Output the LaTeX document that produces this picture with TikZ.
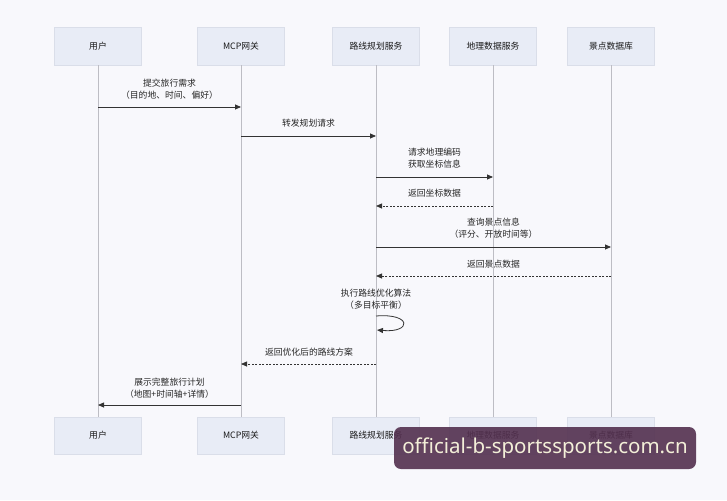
\documentclass[tikz,border=0pt]{standalone}
\usepackage{fontspec}
\setmainfont{Noto Sans CJK SC}
\newfontfamily\wmfont{Noto Sans}
\usetikzlibrary{arrows.meta}
\definecolor{bgc}{HTML}{F8F8FC}
\definecolor{boxfill}{HTML}{E8ECF6}
\definecolor{boxline}{HTML}{DADEE9}
\definecolor{lifec}{HTML}{BDBDC4}
\definecolor{msgc}{HTML}{333333}
\definecolor{wmbg}{HTML}{53304F}
\definecolor{wmtext}{HTML}{F3EFD8}
\tikzset{
  actor/.style={draw=boxline, fill=boxfill, minimum width=87pt, minimum height=38pt, inner sep=0pt, font=\fontsize{8.8}{10}\selectfont, text=black!90},
  life/.style={draw=lifec, line width=0.6pt},
  msg/.style={draw=msgc, line width=0.8pt, -{Triangle[length=6pt,width=5pt]}},
  ret/.style={msg, dashed, dash pattern=on 2pt off 1.5pt},
  lbl/.style={font=\fontsize{8.8}{11.5}\selectfont, text=black!85, align=center, inner sep=0pt}
}
\begin{document}
\begin{tikzpicture}[x=1pt,y=-1pt]
\fill[bgc] (0,0) rectangle (727,500);
\useasboundingbox (0,0) rectangle (727,500);
% top actors
\node[actor] (u1) at (98,46) {用户};
\node[actor] (g1) at (241,46) {MCP网关};
\node[actor] (r1) at (376,46) {路线规划服务};
\node[actor] (d1) at (493,46) {地理数据服务};
\node[actor] (s1) at (611,46) {景点数据库};
% bottom actors
\node[actor, minimum height=37pt] (u2) at (98,435.5) {用户};
\node[actor, minimum height=37pt] (g2) at (241,435.5) {MCP网关};
\node[actor, minimum height=37pt] (r2) at (376,435.5) {路线规划服务};
\node[actor, minimum height=37pt] (d2) at (493,435.5) {地理数据服务};
\node[actor, minimum height=37pt] (s2) at (611,435.5) {景点数据库};
% lifelines
\draw[life] (u1) -- (u2);
\draw[life] (g1) -- (g2);
\draw[life] (r1) -- (r2);
\draw[life] (d1) -- (d2);
\draw[life] (s1) -- (s2);
% message anchor coordinates
\coordinate (a1u) at (98,107); \coordinate (a1g) at (241,107);
\coordinate (a2g) at (241,136); \coordinate (a2r) at (376,136);
\coordinate (a3r) at (376,177); \coordinate (a3d) at (493,177);
\coordinate (a4d) at (493,206); \coordinate (a4r) at (376,206);
\coordinate (a5r) at (376,247); \coordinate (a5s) at (611,247);
\coordinate (a6s) at (611,276); \coordinate (a6r) at (376,276);
\coordinate (a7a) at (376,316); \coordinate (a7b) at (377,330);
\coordinate (a8r) at (376,364); \coordinate (a8g) at (241,364);
\coordinate (a9g) at (241,405); \coordinate (a9u) at (98,405);
% messages
\draw[msg] (a1u) -- (a1g);
\node[lbl] (l1) at (169.5,89) {提交旅行需求\\（目的地、时间、偏好）};
\draw[msg] (a2g) -- (a2r);
\node[lbl] (l2) at (308.5,123) {转发规划请求};
\draw[msg] (a3r) -- (a3d);
\node[lbl] (l3) at (434.5,158) {请求地理编码\\获取坐标信息};
\draw[ret] (a4d) -- (a4r);
\node[lbl] (l4) at (434.5,193) {返回坐标数据};
\draw[msg] (a5r) -- (a5s);
\node[lbl] (l5) at (493.5,228) {查询景点信息\\（评分、开放时间等）};
\draw[ret] (a6s) -- (a6r);
\node[lbl] (l6) at (493.5,264) {返回景点数据};
\node[lbl] (l7) at (376,299) {执行路线优化算法\\（多目标平衡）};
\draw[msg] (a7a) .. controls (412,313) and (412,333) .. (a7b);
\draw[ret] (a8r) -- (a8g);
\node[lbl] (l8) at (309,352) {返回优化后的路线方案};
\draw[msg] (a9g) -- (a9u);
\node[lbl] (l9) at (169.5,388) {展示完整旅行计划\\（地图+时间轴+详情）};
% watermark
\node[fill=wmbg, fill opacity=0.9, text opacity=1, rounded corners=7pt, minimum width=302pt, minimum height=42pt, inner sep=0pt, text=wmtext, font=\wmfont\fontsize{20.5}{22}\selectfont] (wm) at (545,448) {official-b-sportssports.com.cn};
\end{tikzpicture}
\end{document}
